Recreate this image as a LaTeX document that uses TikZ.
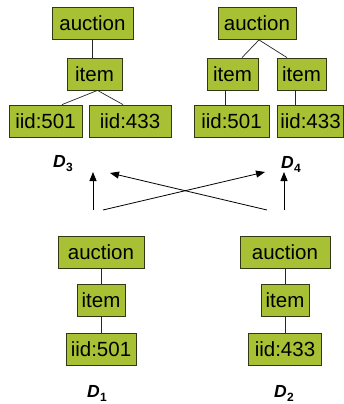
\documentclass[tikz,border=0pt]{standalone}
\usepackage{fontspec}
\setmainfont{Liberation Sans}
\usetikzlibrary{arrows.meta}
\definecolor{boxfill}{RGB}{168,192,52}
\definecolor{boxline}{RGB}{50,56,20}
\newcommand{\dlabel}[1]{{\fontsize{17.5}{20}\selectfont\bfseries\itshape D\kern0.3pt\raisebox{-4pt}{\fontsize{12}{14}\selectfont\upshape #1}}}
\begin{document}
\begin{tikzpicture}[x=1pt,y=-1pt,
  elem/.style={draw=boxline,line width=0.8pt,fill=boxfill,
    minimum height=32pt,inner xsep=0pt,inner ysep=0pt,
    font=\fontsize{20.5}{24}\selectfont},
  edge/.style={draw=black!85,line width=0.7pt},
  flow/.style={draw=black,line width=0.8pt,-{Triangle[width=7pt,length=9pt]}},
  dlab/.style={inner sep=0pt}]
\useasboundingbox (0,0) rectangle (344,404);

% D3: one item with two ids
\node[elem,minimum width=81pt] (a3) at (92.5,23.5) {auction};
\node[elem,minimum width=55pt] (i3) at (94.5,74) {item};
\node[elem,minimum width=73pt] (p3) at (45.5,121) {iid:501};
\node[elem,minimum width=82pt] (q3) at (130,121) {iid:433};
\draw[edge] (a3.south) -- (a3.south |- i3.north);
\draw[edge] ([xshift=3pt]i3.south) -- ([xshift=16.5pt]p3.north);
\draw[edge] ([xshift=3pt]i3.south) -- ([xshift=-7pt]q3.north);
\node[dlab] (l3) at (63,164) {\dlabel{3}};

% D4: two items, one id each
\node[elem,minimum width=78pt] (a4) at (257,23.5) {auction};
\node[elem,minimum width=51pt] (i4) at (232.5,74) {item};
\node[elem,minimum width=49pt] (j4) at (301.5,74) {item};
\node[elem,minimum width=75pt] (p4) at (231.5,121) {iid:501};
\node[elem,minimum width=66pt] (q4) at (310.5,121) {iid:433};
\draw[edge] ([xshift=2pt]a4.south) -- ([xshift=9.5pt]i4.north);
\draw[edge] ([xshift=2pt]a4.south) -- ([xshift=-14.5pt]j4.north);
\draw[edge] ([xshift=-7.5pt]i4.south) -- ([xshift=-6.5pt]p4.north);
\draw[edge] ([xshift=-6.5pt]j4.south) -- ([xshift=-15.5pt]q4.north);
\node[dlab] (l4) at (291,164) {\dlabel{4}};

% D1
\node[elem,minimum width=86pt] (a1) at (101,252) {auction};
\node[elem,minimum width=48pt] (i1) at (101,300) {item};
\node[elem,minimum width=70pt] (p1) at (101,349) {iid:501};
\draw[edge] (a1) -- (i1);
\draw[edge] (i1) -- (p1);
\node[dlab] (l1) at (97,393) {\dlabel{1}};

% D2
\node[elem,minimum width=90pt] (a2) at (285,252) {auction};
\node[elem,minimum width=48pt] (i2) at (285,300) {item};
\node[elem,minimum width=73pt] (p2) at (285,349) {iid:433};
\draw[edge] (a2) -- (i2);
\draw[edge] (i2) -- (p2);
\node[dlab] (l2) at (284,393) {\dlabel{2}};

% merge arrows
\coordinate (s1) at (93,210);
\coordinate (t1) at (93,172);
\coordinate (s2) at (284,210);
\coordinate (t2) at (284,172);
\coordinate (s3) at (103,210);
\coordinate (t3) at (265,172);
\coordinate (s4) at (267,210);
\coordinate (t4) at (110,173);
\draw[flow] (s1) -- (t1);
\draw[flow] (s2) -- (t2);
\draw[flow] (s3) -- (t3);
\draw[flow] (s4) -- (t4);
\end{tikzpicture}
\end{document}
